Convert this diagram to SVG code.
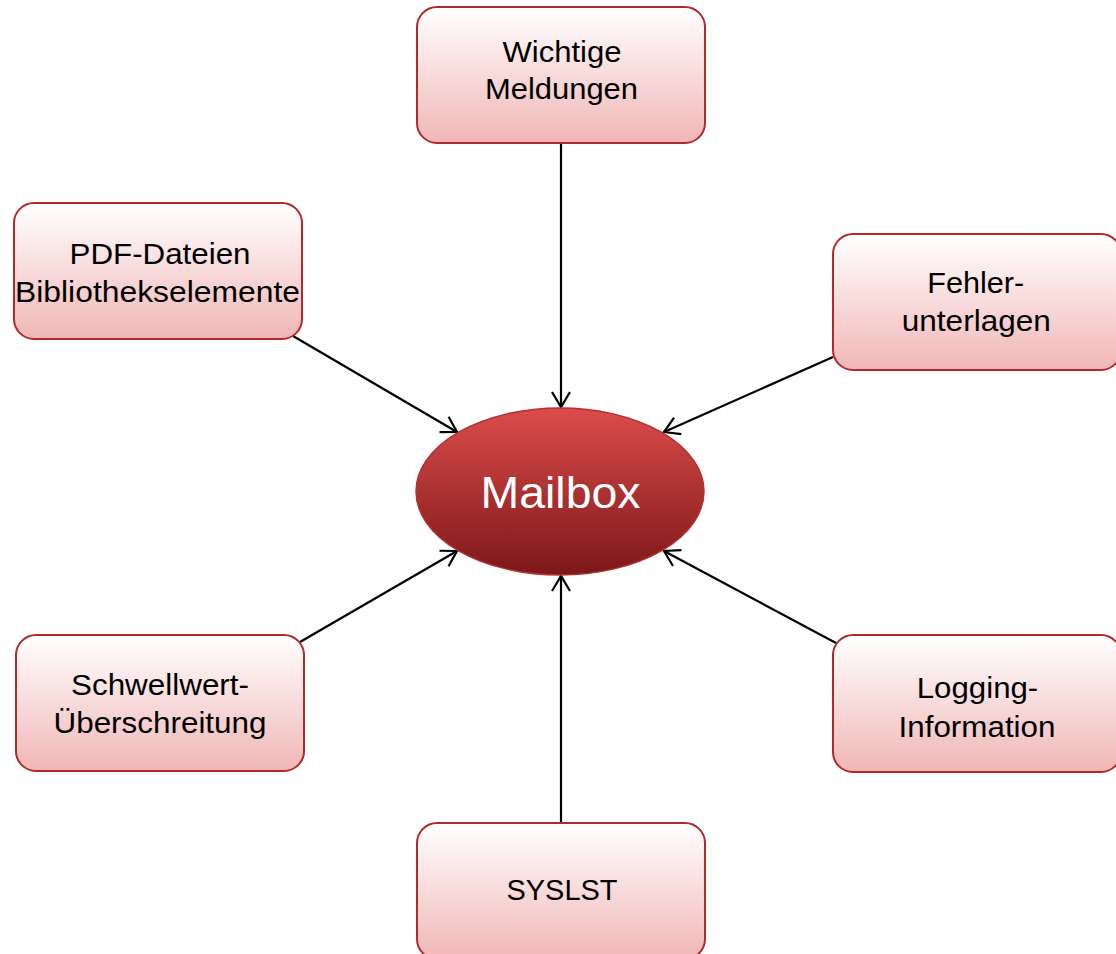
<svg xmlns="http://www.w3.org/2000/svg" width="1116" height="954" viewBox="0 0 1116 954">
<defs>
<linearGradient id="boxFill" x1="0" y1="0" x2="0" y2="1">
<stop offset="0" stop-color="#ffffff"/>
<stop offset="1" stop-color="#f1b6b6"/>
</linearGradient>
<linearGradient id="ellFill" x1="0" y1="0" x2="0" y2="1">
<stop offset="0" stop-color="#dc4c4c"/>
<stop offset="1" stop-color="#7c1718"/>
</linearGradient>
<marker id="arr" markerUnits="userSpaceOnUse" markerWidth="30" markerHeight="30" viewBox="-20 -15 30 30" refX="0" refY="0" orient="auto">
<path d="M-15,-9 L0,0 L-15,9" fill="none" stroke="#000" stroke-width="2.2" stroke-linejoin="miter"/>
</marker>
</defs>
<style>
.box{fill:url(#boxFill);stroke:#b02a2a;stroke-width:2}
.lbl{font-family:"Liberation Sans",Arial,sans-serif;font-size:29px;fill:#000;text-anchor:middle}
.conn line{stroke:#000;stroke-width:2.2;marker-end:url(#arr)}
</style>
<rect width="1116" height="954" fill="#ffffff"/>
<g id="connectors" class="conn">
<line x1="561" y1="143" x2="561" y2="407"/>
<line x1="561" y1="823" x2="561" y2="576"/>
<line x1="293" y1="336" x2="457" y2="432"/>
<line x1="833" y1="357" x2="664" y2="432"/>
<line x1="300" y1="642" x2="457" y2="551"/>
<line x1="836" y1="643" x2="664" y2="551"/>
</g>
<g id="mailbox">
<ellipse cx="560" cy="491.5" rx="144" ry="83.5" fill="url(#ellFill)" stroke="#b33030" stroke-width="1.5"/>
<text x="560.5" y="508" font-family="'Liberation Sans',Arial,sans-serif" font-size="45" fill="#ffffff" text-anchor="middle" textLength="160" lengthAdjust="spacingAndGlyphs">Mailbox</text>
</g>
<g id="wichtige">
<rect class="box" x="417" y="7" width="288" height="136" rx="20"/>
<text class="lbl" x="562" y="62" textLength="119" lengthAdjust="spacingAndGlyphs">Wichtige</text>
<text class="lbl" x="561.5" y="98.5" textLength="153" lengthAdjust="spacingAndGlyphs">Meldungen</text>
</g>
<g id="pdf">
<rect class="box" x="14" y="203" width="288" height="136" rx="20"/>
<text class="lbl" x="160" y="264" textLength="181" lengthAdjust="spacingAndGlyphs">PDF-Dateien</text>
<text class="lbl" x="157.5" y="301.5" textLength="285" lengthAdjust="spacingAndGlyphs">Bibliothekselemente</text>
</g>
<g id="fehler">
<rect class="box" x="833" y="234" width="288" height="136" rx="20"/>
<text class="lbl" x="975.7" y="292.7" textLength="97" lengthAdjust="spacingAndGlyphs">Fehler-</text>
<text class="lbl" x="976.3" y="331" textLength="149" lengthAdjust="spacingAndGlyphs">unterlagen</text>
</g>
<g id="schwellwert">
<rect class="box" x="16" y="635" width="288" height="136" rx="20"/>
<text class="lbl" x="160" y="695" textLength="178" lengthAdjust="spacingAndGlyphs">Schwellwert-</text>
<text class="lbl" x="160" y="733.3" textLength="213" lengthAdjust="spacingAndGlyphs">Überschreitung</text>
</g>
<g id="logging">
<rect class="box" x="833" y="635" width="288" height="137" rx="20"/>
<text class="lbl" x="977.5" y="698.3" textLength="121.5" lengthAdjust="spacingAndGlyphs">Logging-</text>
<text class="lbl" x="977" y="736.7" textLength="157" lengthAdjust="spacingAndGlyphs">Information</text>
</g>
<g id="syslst">
<rect class="box" x="417" y="823" width="288" height="136" rx="20"/>
<text class="lbl" x="562" y="899.7" textLength="111" lengthAdjust="spacingAndGlyphs">SYSLST</text>
</g>
</svg>
